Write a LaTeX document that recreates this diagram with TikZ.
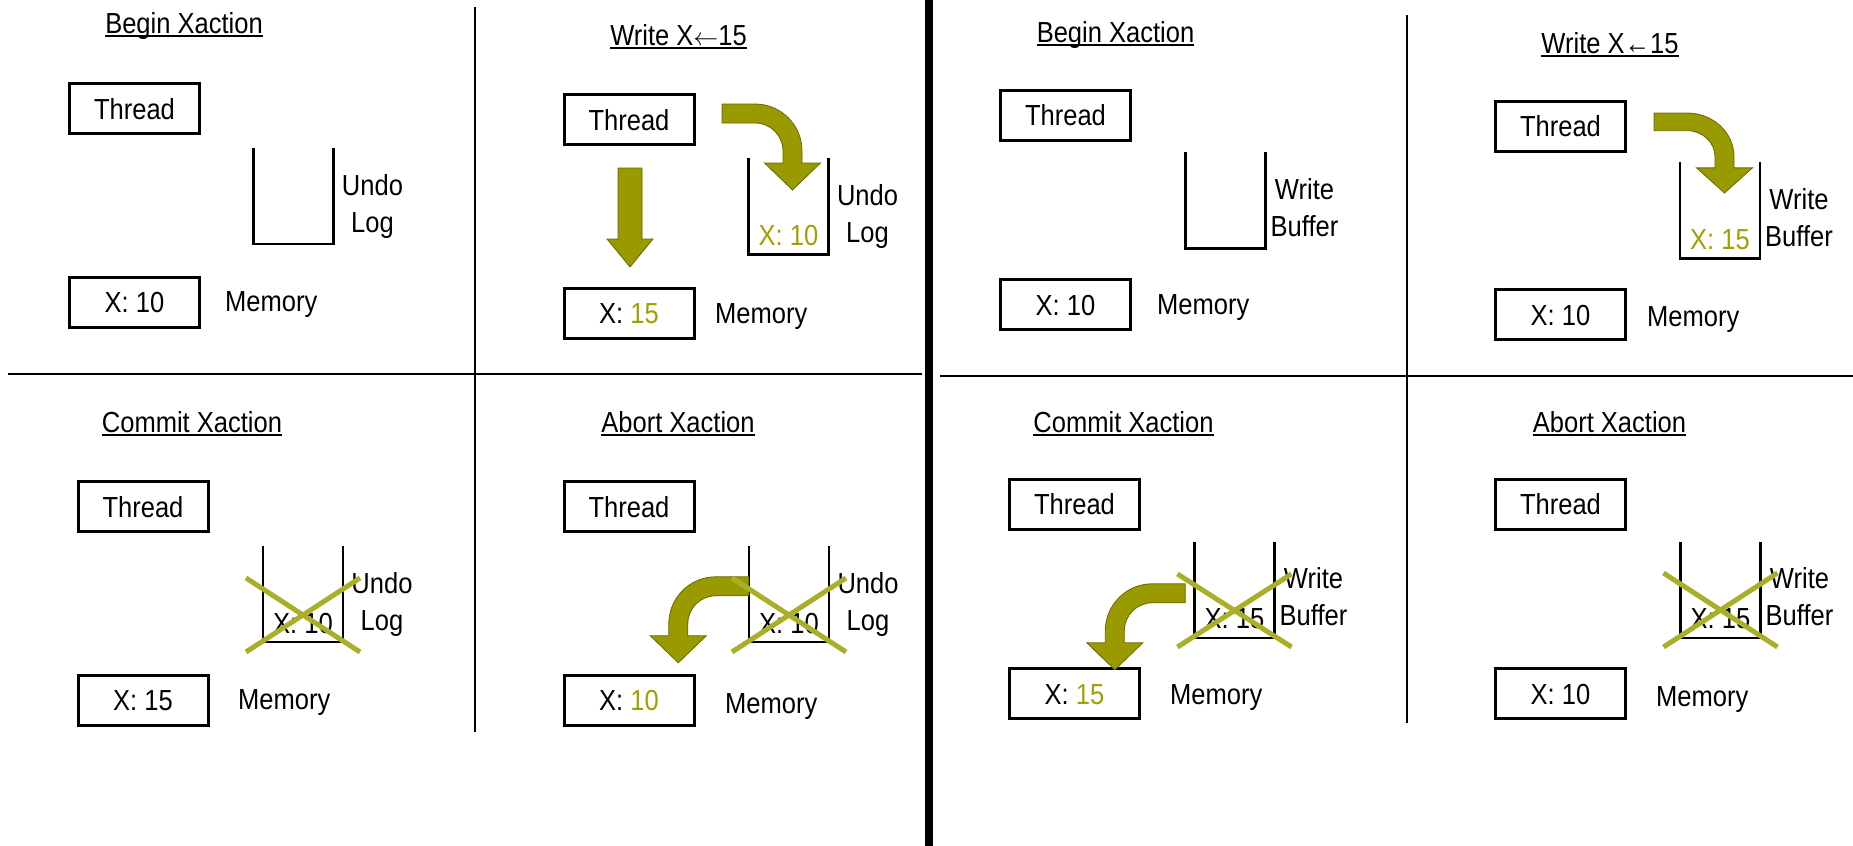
\documentclass[tikz,border=0pt]{standalone}
\usepackage{fontspec}
\setmainfont{Liberation Sans}[FakeStretch=0.88]
\usetikzlibrary{calc}
\definecolor{olivetext}{RGB}{160,160,0}
\definecolor{arrowfill}{RGB}{153,153,0}
\definecolor{arrowline}{RGB}{105,105,0}
\definecolor{crosscol}{RGB}{170,175,40}
\begin{document}
\begin{tikzpicture}[x=1pt,y=-1pt,
  every node/.style={font=\fontsize{29}{37}\selectfont, inner sep=0pt},
  box/.style={draw, line width=3pt, minimum width=130pt, minimum height=50pt, text height=21pt, text depth=0pt},
  bucket/.style={minimum width=80pt, minimum height=96pt},
  bucketline/.style={line width=2.5pt},
  ttl/.style={anchor=base},
  uline/.style={line width=2pt},
  lbl/.style={anchor=north, align=center},
  mem/.style={anchor=base west},
  bval/.style={anchor=base},
  crossline/.style={draw=crosscol, line width=5pt},
  divider/.style={line width=2pt},
  bentarrow/.pic={
    \filldraw[fill=arrowfill, draw=arrowline, line width=0.8pt]
      (0,0) -- (33,0) .. controls (59,0) and (80,21) .. (80,47) -- (80,59)
      -- (98.5,59) -- (70.5,86) -- (42.5,59) -- (61,59) -- (61,47)
      .. controls (61,31.5) and (48.5,19) .. (33,19) -- (0,19) -- cycle;
  },
  downarrow/.pic={
    \filldraw[fill=arrowfill, draw=arrowline, line width=0.8pt]
      (-12,0) -- (12,0) -- (12,71) -- (23,71) -- (0,99) -- (-23,71) -- (-12,71) -- cycle;
  }
]
\useasboundingbox (0,0) rectangle (1853,846);

% dividers
\draw[divider] (475,7) -- (475,732);
\draw[divider] (8,374) -- (922,374);
\fill (925,0) rectangle (933,846);
\draw[divider] (940,376) -- (1853,376);
\draw[divider] (1407,15) -- (1407,723);

% ---------- Panel 1: Begin (undo log)
\node[ttl] (h1) at (184,33) {Begin Xaction};
\draw[uline] ([yshift=-3pt]h1.base west) -- ([yshift=-3pt]h1.base east);
\node[box] (t1) at (134.5,108.5) {Thread};
\node[box] (m1) at (134.5,302) {X: 10};
\node[mem] (ml1) at (225,311) {Memory};
\node[bucket] (b1) at (293.5,196) {};
\draw[bucketline] (b1.north west) -- (b1.south west) -- (b1.south east) -- (b1.north east);
\node[lbl] (l1) at ($(b1.north)+(79,26)$) {Undo\\Log};

% ---------- Panel 2: Write (undo log)
\node[ttl] (h2) at (678.5,45) {Write X$\leftarrow$15};
\draw[uline] ([yshift=-3pt]h2.base west) -- ([yshift=-3pt]h2.base east);
\node[box] (t2) at (629,119.5) {Thread};
\node[box] (m2) at (629,313) {X: \textcolor{olivetext}{15}};
\node[mem] (ml2) at (715,323) {Memory};
\node[bucket] (b2) at (788.5,206.5) {};
\draw[bucketline] (b2.north west) -- (b2.south west) -- (b2.south east) -- (b2.north east);
\node[bval, text=olivetext] (v2) at ($(b2.south)+(0,-9)$) {X: 10};
\node[lbl] (l2) at ($(b2.north)+(79,26)$) {Undo\\Log};
\pic at ($(t2.south)+(1,22)$) {downarrow};
\pic at (722,104) {bentarrow};

% ---------- Panel 3: Commit (undo log)
\node[ttl] (h3) at (192,432) {Commit Xaction};
\draw[uline] ([yshift=-3pt]h3.base west) -- ([yshift=-3pt]h3.base east);
\node[box] (t3) at (143,506.5) {Thread};
\node[box] (m3) at (143,700) {X: 15};
\node[mem] (ml3) at (238,709) {Memory};
\node[bucket] (b3) at (303,594) {};
\draw[bucketline] (b3.north west) -- (b3.south west) -- (b3.south east) -- (b3.north east);
\node[bval] (v3) at ($(b3.south)+(0,-9)$) {X: 10};
\node[lbl] (l3) at ($(b3.north)+(79,26)$) {Undo\\Log};
\draw[crossline] ($(b3.center)+(-57,-16)$) -- ($(b3.center)+(57,58)$);
\draw[crossline] ($(b3.center)+(-57,58)$) -- ($(b3.center)+(57,-16)$);

% ---------- Panel 4: Abort (undo log)
\node[ttl] (h4) at (678,432) {Abort Xaction};
\draw[uline] ([yshift=-3pt]h4.base west) -- ([yshift=-3pt]h4.base east);
\node[box] (t4) at (629,506.5) {Thread};
\node[box] (m4) at (629,700) {X: \textcolor{olivetext}{10}};
\node[mem] (ml4) at (725,713) {Memory};
\node[bucket] (b4) at (789,594) {};
\draw[bucketline] (b4.north west) -- (b4.south west) -- (b4.south east) -- (b4.north east);
\node[bval] (v4) at ($(b4.south)+(0,-9)$) {X: 10};
\node[lbl] (l4) at ($(b4.north)+(79,26)$) {Undo\\Log};
\pic[xscale=-1] at ($(b4.north west)+(0,31)$) {bentarrow};
\draw[crossline] ($(b4.center)+(-57,-16)$) -- ($(b4.center)+(57,58)$);
\draw[crossline] ($(b4.center)+(-57,58)$) -- ($(b4.center)+(57,-16)$);

% ---------- Panel 5: Begin (write buffer)
\node[ttl] (h5) at (1115.5,42) {Begin Xaction};
\draw[uline] ([yshift=-3pt]h5.base west) -- ([yshift=-3pt]h5.base east);
\node[box] (t5) at (1065.5,115) {Thread};
\node[box] (m5) at (1065.5,304.5) {X: 10};
\node[mem] (ml5) at (1157,314) {Memory};
\node[bucket] (b5) at (1225.5,200.5) {};
\draw[bucketline] (b5.north west) -- (b5.south west) -- (b5.south east) -- (b5.north east);
\node[lbl] (l5) at ($(b5.north)+(79,26)$) {Write\\Buffer};

% ---------- Panel 6: Write (write buffer)
\node[ttl] (h6) at (1610,53) {Write X←15};
\draw[uline] ([yshift=-3pt]h6.base west) -- ([yshift=-3pt]h6.base east);
\node[box] (t6) at (1560.5,126) {Thread};
\node[box] (m6) at (1560.5,314.5) {X: 10};
\node[mem] (ml6) at (1647,326) {Memory};
\node[bucket] (b6) at (1720,210.5) {};
\draw[bucketline] (b6.north west) -- (b6.south west) -- (b6.south east) -- (b6.north east);
\node[bval, text=olivetext] (v6) at ($(b6.south)+(0,-9)$) {X: 15};
\node[lbl] (l6) at ($(b6.north)+(79,26)$) {Write\\Buffer};
\pic[yscale=0.93] at (1654,113) {bentarrow};

% ---------- Panel 7: Commit (write buffer)
\node[ttl] (h7) at (1123.5,432) {Commit Xaction};
\draw[uline] ([yshift=-3pt]h7.base west) -- ([yshift=-3pt]h7.base east);
\node[box] (t7) at (1074.5,504) {Thread};
\node[box] (m7) at (1074.5,693.5) {X: \textcolor{olivetext}{15}};
\node[mem] (ml7) at (1170,704) {Memory};
\node[bucket] (b7) at (1234.5,590) {};
\draw[bucketline] (b7.north west) -- (b7.south west) -- (b7.south east) -- (b7.north east);
\node[bval] (v7) at ($(b7.south)+(0,-10)$) {X: 15};
\node[lbl] (l7) at ($(b7.north)+(79,25)$) {Write\\Buffer};
\pic[xscale=-1] at ($(b7.north west)+(-9,42)$) {bentarrow};
\draw[crossline] ($(b7.center)+(-57,-16)$) -- ($(b7.center)+(57,57)$);
\draw[crossline] ($(b7.center)+(-57,57)$) -- ($(b7.center)+(57,-16)$);

% ---------- Panel 8: Abort (write buffer)
\node[ttl] (h8) at (1609.5,432) {Abort Xaction};
\draw[uline] ([yshift=-3pt]h8.base west) -- ([yshift=-3pt]h8.base east);
\node[box] (t8) at (1560.5,504) {Thread};
\node[box] (m8) at (1560.5,693.5) {X: 10};
\node[mem] (ml8) at (1656,706) {Memory};
\node[bucket] (b8) at (1720.5,590) {};
\draw[bucketline] (b8.north west) -- (b8.south west) -- (b8.south east) -- (b8.north east);
\node[bval] (v8) at ($(b8.south)+(0,-10)$) {X: 15};
\node[lbl] (l8) at ($(b8.north)+(79,25)$) {Write\\Buffer};
\draw[crossline] ($(b8.center)+(-57,-17)$) -- ($(b8.center)+(57,57)$);
\draw[crossline] ($(b8.center)+(-57,57)$) -- ($(b8.center)+(57,-17)$);
\end{tikzpicture}
\end{document}
